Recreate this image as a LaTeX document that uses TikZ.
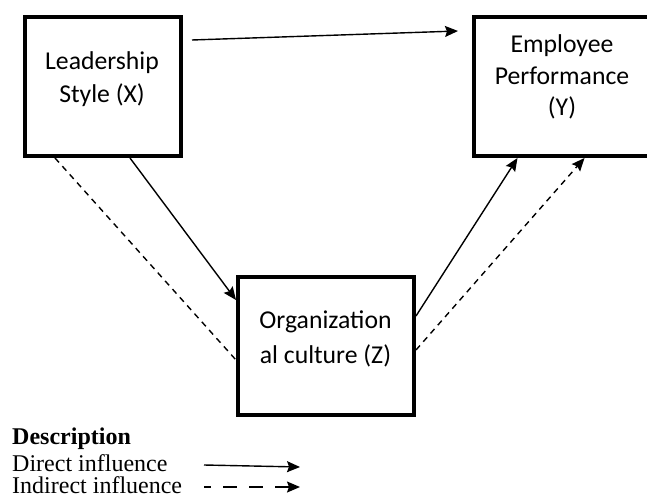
\documentclass[tikz,border=0pt]{standalone}
\usepackage{fontspec}
\setmainfont{Liberation Serif}
\newfontfamily\boxfont{Carlito}
\usetikzlibrary{arrows.meta}

\begin{document}
\begin{tikzpicture}[x=1pt,y=-1pt,
  varbox/.style={draw=black,line width=4pt,inner sep=0pt,rectangle},
  boxtext/.style={font=\boxfont\fontsize{25.7}{30}\selectfont,anchor=base,inner sep=0pt},
  legtext/.style={font=\fontsize{24}{24}\selectfont,anchor=base west,inner sep=0pt},
  link/.style={line width=1.4pt,-{Stealth[length=13pt,width=11pt,inset=2pt]}},
  dashlink/.style={line width=1.4pt,dash pattern=on 6pt off 5pt},
  dasharrow/.style={dashlink,-{Stealth[length=13pt,width=11pt,inset=2pt]}}
]
\useasboundingbox (0,0) rectangle (647,497);

% variable boxes
\node[varbox,minimum width=156pt,minimum height=139pt] (X) at (103,86.5) {};
\node[varbox,minimum width=175pt,minimum height=139pt] (Y) at (561.5,86.5) {};
\node[varbox,minimum width=176pt,minimum height=138pt] (Z) at (326,346) {};

% box captions
\node[boxtext] (X1) at (102,70) {Leadership};
\node[boxtext] (X2) at (102,103) {Style (X)};
\node[boxtext] (Y1) at (562,53) {Employee};
\node[boxtext] (Y2) at (562,85) {Performance};
\node[boxtext] (Y3) at (562,116) {(Y)};
\node[boxtext] (Z1) at (325.5,328) {Organization};
\node[boxtext] (Z2) at (325.5,363) {al culture (Z)};

% direct paths
\draw[link] ([shift={(9pt,-25pt)}]X.north east) -- ([shift={(-14pt,-16pt)}]Y.north west);
\draw[link] ([xshift=27pt]X.south) -- ([yshift=46pt]Z.west);
\draw[link] ([yshift=30pt]Z.east) -- ([xshift=-44pt]Y.south);

% indirect paths
\draw[dashlink] ([xshift=-48pt]X.south) -- ([yshift=-14pt]Z.west);
\draw[dasharrow] ([yshift=-4pt]Z.east) -- ([xshift=23pt]Y.south);

% legend
\node[legtext,font=\bfseries\fontsize{24}{24}\selectfont] (desc) at (12,444) {Description};
\node[legtext] (ldirect) at (12,471) {Direct influence};
\node[legtext] (lindirect) at (12,493) {Indirect influence};
\coordinate (d1) at (204,465);
\coordinate (d2) at (300,467);
\coordinate (i1) at (204,487);
\coordinate (i2) at (300,487);
\draw[link] (d1) -- (d2);
\draw[line width=1.4pt,dash pattern=on 14pt off 12pt,dash phase=7pt,
      -{Stealth[length=13pt,width=11pt,inset=2pt]}] (i1) -- (i2);
\end{tikzpicture}
\end{document}
